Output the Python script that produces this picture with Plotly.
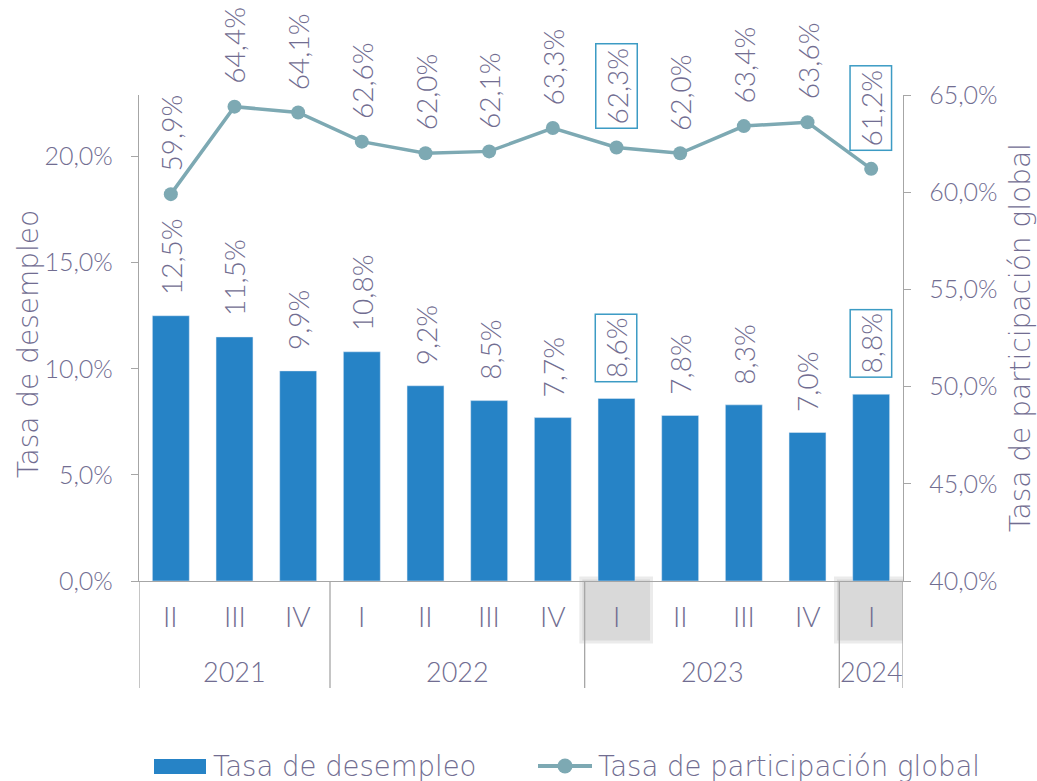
import plotly.graph_objects as go

# datos
trimestres = ["II", "III", "IV", "I", "II", "III", "IV", "I", "II", "III", "IV", "I"]
anios = ["2021", "2022", "2023", "2024"]
anios_inicio = [0, 3, 7, 11]
anios_fin = [2, 6, 10, 11]
desempleo = [12.5, 11.5, 9.9, 10.8, 9.2, 8.5, 7.7, 8.6, 7.8, 8.3, 7.0, 8.8]
participacion = [59.9, 64.4, 64.1, 62.6, 62.0, 62.1, 63.3, 62.3, 62.0, 63.4, 63.6, 61.2]
resaltados = [7, 11]
ticks_izq = [0, 5, 10, 15, 20]
ticks_der = [40, 45, 50, 55, 60, 65]

TXT = "#716D91"
AXIS = "#A6A6A6"
BAR = "#2683C6"
LINE = "#7DA9B3"
BOX = "#3C9BC4"
NUM = "Lato"
TEXTO = "DejaVu Sans"

W, H = 1037, 781
L, R, T, B = 139, 134, 95, 200


# conversion de pixeles a coordenadas de papel (solo para el layout)
def px(xp):
    return (xp - L) / (W - L - R)


def py(yp):
    return (H - B - yp) / (H - T - B)


def fmt(v):
    return f"{v:.1f}".replace(".", ",") + "%"


x = list(range(len(trimestres)))

fig = go.Figure()

fig.add_trace(go.Bar(
    x=x, y=desempleo, name="Tasa de desempleo",
    marker_color=BAR, width=0.58, yaxis="y",
))
fig.add_trace(go.Scatter(
    x=x, y=participacion, name="Tasa de participación global",
    mode="lines+markers", yaxis="y2",
    line=dict(color=LINE, width=3.5),
    marker=dict(color=LINE, size=14),
))

annotations = []
for i, v in enumerate(desempleo):
    box = i in resaltados
    annotations.append(dict(
        x=i, y=v, xref="x", yref="y", text=fmt(v), textangle=-90,
        showarrow=False, yanchor="bottom", yshift=16,
        font=dict(size=28, color=TXT, family=NUM, weight=300),
        bordercolor=BOX if box else "rgba(0,0,0,0)", borderwidth=1.5, borderpad=3,
    ))
for i, v in enumerate(participacion):
    box = i in resaltados
    annotations.append(dict(
        x=i, y=v, xref="x", yref="y2", text=fmt(v), textangle=-90,
        showarrow=False, yanchor="bottom", yshift=18,
        font=dict(size=28, color=TXT, family=NUM, weight=300),
        bordercolor=BOX if box else "rgba(0,0,0,0)", borderwidth=1.5, borderpad=3,
    ))

# etiquetas de trimestre y anio
for i, q in enumerate(trimestres):
    annotations.append(dict(
        x=i, y=py(616), xref="x", yref="paper", text=q, showarrow=False,
        yanchor="middle", font=dict(size=28, color=TXT, family=NUM, weight=300),
    ))
for a, s, e in zip(anios, anios_inicio, anios_fin):
    annotations.append(dict(
        x=(s + e) / 2, y=py(671), xref="x", yref="paper", text=a, showarrow=False,
        yanchor="middle", font=dict(size=27, color=TXT, family=NUM, weight=300),
    ))

# titulos de ejes
annotations.append(dict(
    x=px(28), y=py(344), xref="paper", yref="paper", text="Tasa de desempleo",
    textangle=-90, showarrow=False, xanchor="center", yanchor="middle",
    font=dict(size=28, color=TXT, family=TEXTO, weight=200),
))
annotations.append(dict(
    x=px(1020), y=py(338), xref="paper", yref="paper", text="Tasa de participación global",
    textangle=-90, showarrow=False, xanchor="center", yanchor="middle",
    font=dict(size=28, color=TXT, family=TEXTO, weight=200),
))

# leyenda manual
annotations.append(dict(
    x=px(211), y=py(766), xref="paper", yref="paper", text="Tasa de desempleo",
    showarrow=False, xanchor="left", yanchor="middle",
    font=dict(size=27.5, color=TXT, family=TEXTO, weight=200),
))
annotations.append(dict(
    x=px(596), y=py(766), xref="paper", yref="paper", text="Tasa de participación global",
    showarrow=False, xanchor="left", yanchor="middle",
    font=dict(size=27.5, color=TXT, family=TEXTO, weight=200),
))

shapes = []
for i in resaltados:
    shapes.append(dict(
        type="rect", xref="x", yref="paper", x0=i - 0.56, x1=i + 0.55,
        y0=py(642), y1=py(578), fillcolor="#D9D9D9",
        line=dict(color="#EBEBEB", width=3), layer="below",
    ))
for s in [-0.5] + [e + 0.5 for e in anios_fin]:
    shapes.append(dict(
        type="line", xref="x", yref="paper", x0=s, x1=s, y0=0, y1=py(688),
        line=dict(color=AXIS, width=1.3),
    ))
shapes.append(dict(
    type="rect", xref="paper", yref="paper", x0=px(154), x1=px(206),
    y0=py(774), y1=py(759), fillcolor=BAR, line=dict(width=0),
))
shapes.append(dict(
    type="line", xref="paper", yref="paper", x0=px(538), x1=px(592),
    y0=py(766), y1=py(766), line=dict(color=LINE, width=4),
))
shapes.append(dict(
    type="circle", xref="paper", yref="paper", x0=px(557.5), x1=px(572.5),
    y0=py(773.5), y1=py(758.5), fillcolor=LINE, line=dict(width=0),
))

fig.update_layout(
    width=W, height=H,
    margin=dict(l=L, r=R, t=T, b=B, autoexpand=False),
    plot_bgcolor="white", paper_bgcolor="white",
    font=dict(family=NUM, color=TXT, size=20),
    showlegend=False,
    xaxis=dict(
        range=[-0.5, 11.5], showticklabels=False, ticks="", showgrid=False,
        zeroline=False, showline=True, linecolor=AXIS, linewidth=1.3,
        automargin=False,
    ),
    yaxis=dict(
        range=[0, 22.9], tickvals=ticks_izq, ticktext=[fmt(t) for t in ticks_izq],
        showgrid=False, zeroline=False, showline=True, linecolor=AXIS, linewidth=1.3,
        ticks="outside", ticklen=7, tickcolor=AXIS, automargin=False,
        ticklabelstandoff=13,
        tickfont=dict(size=25, color=TXT, family=NUM, weight=300),
    ),
    yaxis2=dict(
        range=[40, 65], tickvals=ticks_der, ticktext=[fmt(t) for t in ticks_der],
        overlaying="y", side="right", automargin=False,
        showgrid=False, zeroline=False, showline=True, linecolor=AXIS, linewidth=1.3,
        ticks="outside", ticklen=7, tickcolor=AXIS, ticklabelstandoff=13,
        tickfont=dict(size=25, color=TXT, family=NUM, weight=300),
    ),
    annotations=annotations,
    shapes=shapes,
)

fig.write_html("out.html", config={"displayModeBar": False},
               post_script="document.body.style.margin='0px';")
